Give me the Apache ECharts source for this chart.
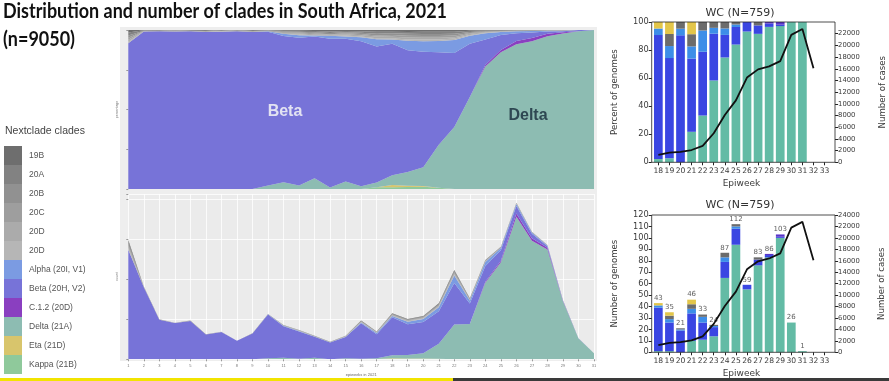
<!DOCTYPE html>
<html><head><meta charset="utf-8">
<script src="https://cdn.jsdelivr.net/npm/echarts@6/dist/echarts.min.js"></script>
<style>html,body{margin:0;padding:0;background:#fff}#c{width:889px;height:381px}</style>
</head><body><div id="c"></div>
<script>
// ---------- Left panel: South Africa, epiweeks 1..31 (counts per clade) ----------
const weeks = [1,2,3,4,5,6,7,8,9,10,11,12,13,14,15,16,17,18,19,20,21,22,23,24,25,26,27,28,29,30,31];
const c19B  = [12,1,0,0,0,0,0,0,0,0,1,1,1,1,1,2,2,3,3,3,4,6,2,2,2,1,1,0,0,0,0];
const c20A  = [14,1,1,0,1,1,0,0,1,1,1,1,1,1,1,2,2,3,3,4,5,7,3,3,2,2,1,1,0,0,0];
const c20B  = [10,1,0,1,0,0,1,0,0,0,1,1,1,1,1,2,2,3,3,3,4,6,2,2,1,1,1,0,1,0,0];
const c20C  = [10,0,1,0,1,0,0,1,0,1,1,1,1,0,1,2,1,3,3,3,4,6,2,2,1,1,1,1,0,0,0];
const c20Da = [9,1,0,1,0,1,0,0,1,0,1,1,1,1,1,2,2,3,3,3,4,5,3,2,2,2,1,1,1,0,0];
const c20Db = [7,0,0,0,0,0,1,0,0,0,0,1,0,0,1,1,1,2,2,3,3,5,2,2,1,1,0,0,0,0,0];
const cAlpha = [0,0,0,0,0,0,0,0,0,1,3,3,1,2,2,6,8,8,15,18,25,46,19,24,13,12,7,4,1,0,0];
const cBeta  = [682,449,247,226,239,154,170,115,160,273,197,170,131,103,132,220,149,237,192,196,203,259,127,99,66,48,28,10,2,1,0];
const cC12   = [0,0,0,0,0,0,0,0,0,0,0,0,0,0,0,0,0,0,0,0,0,0,0,6,10,20,16,11,3,0,0];
const cDelta = [0,0,0,0,0,0,0,0,0,6,9,4,10,1,7,4,5,18,22,32,94,217,220,477,604,888,739,684,362,130,37];
const cEta   = [0,0,0,0,0,0,0,0,0,0,0,0,0,0,0,0,0,4,2,1,0,0,0,0,0,0,0,0,0,0,0];
const cKappa = [0,0,0,0,0,0,0,0,0,0,0,0,0,0,0,0,2,3,3,4,3,0,0,0,0,0,0,0,0,0,0];
const legendNames = ['19B','20A','20B','20C','20D','20D ','Alpha (20I, V1)','Beta (20H, V2)','C.1.2 (20D)','Delta (21A)','Eta (21D)','Kappa (21B)'];

// ---------- Right panels: WC, epiweeks 18..33 ----------
const epiTicks = ['18','19','20','21','22','23','24','25','26','27','28','29','30','31','32','33'];
const rDelta = [1,1,0,10,11,14,65,94,55,76,83,100,26,1];
const rBeta  = [38,25,19,24,15,8,14,14,4,5,2,1,0,0];
const rAlpha = [2,3,1,4,5,1,4,2,0,0,0,0,0,0];
const rC12   = [0,0,0,0,0,0,0,0,0,0,1,2,0,0];
const rGrey  = [0,3,1,4,2,1,4,2,0,2,0,0,0,0];
const rEta   = [2,3,0,4,0,0,0,0,0,0,0,0,0,0];
const cases = [1260,1660,1770,2100,2800,4970,8100,10600,14500,15900,16400,17300,21800,22800,16100];

const TITLE1 = 'Distribution and number of clades in South Africa, 2021';
const TITLE2 = '(n=9050)';

// ---------- build ----------
const leftStack = [
  {name:'Kappa (21B)', d:cKappa, c:'#8fc99b'},
  {name:'Eta (21D)', d:cEta, c:'#d8c56c'},
  {name:'Delta (21A)', d:cDelta, c:'#8dbcb2'},
  {name:'C.1.2 (20D)', d:cC12, c:'#8a3fc0'},
  {name:'Beta (20H, V2)', d:cBeta, c:'#7773d8'},
  {name:'Alpha (20I, V1)', d:cAlpha, c:'#7b9be2'},
  {name:'20D ', d:c20Db, c:'#b6b6b6'},
  {name:'20D', d:c20Da, c:'#ababab'},
  {name:'20C', d:c20C, c:'#9e9e9e'},
  {name:'20B', d:c20B, c:'#919191'},
  {name:'20A', d:c20A, c:'#828282'},
  {name:'19B', d:c19B, c:'#6e6e6e'}
];
const totals = weeks.map((w, i) => leftStack.reduce((s, k) => s + k.d[i], 0));
const series = [];
leftStack.forEach(k => {
  series.push({name:k.name, type:'line', xAxisIndex:0, yAxisIndex:0, stack:'pct', symbol:'none', color:k.c,
    lineStyle:{width:0}, areaStyle:{color:k.c, opacity:1}, silent:true,
    data: k.d.map((v, i) => totals[i] ? v / totals[i] * 100 : 0)});
  series.push({name:k.name, type:'line', xAxisIndex:1, yAxisIndex:1, stack:'cnt', symbol:'none', color:k.c,
    lineStyle:{width:0}, areaStyle:{color:k.c, opacity:1}, silent:true,
    data: k.d.slice()});
});
const rStack = [
  {n:'r-delta', d:rDelta, c:'#63bba5'},
  {n:'r-beta', d:rBeta, c:'#3a46e2'},
  {n:'r-alpha', d:rAlpha, c:'#3d8ee8'},
  {n:'r-c12', d:rC12, c:'#5a35c8'},
  {n:'r-grey', d:rGrey, c:'#6c6c6c'},
  {n:'r-eta', d:rEta, c:'#e3c64a'}
];
const rTotals = rDelta.map((w, i) => rStack.reduce((s, k) => s + k.d[i], 0));
rStack.forEach(k => {
  series.push({name:k.n, type:'bar', xAxisIndex:2, yAxisIndex:2, stack:'rp', barWidth:8.7, color:k.c, silent:true,
    data: k.d.map((v, i) => rTotals[i] ? v / rTotals[i] * 100 : 0)});
  series.push({name:k.n, type:'bar', xAxisIndex:3, yAxisIndex:4, stack:'rc', barWidth:8.7, color:k.c, silent:true,
    data: k.d.slice()});
});
series.push({name:'r-tot', type:'scatter', xAxisIndex:3, yAxisIndex:4, symbolSize:1, silent:true,
  itemStyle:{color:'rgba(0,0,0,0)'},
  label:{show:true, position:'top', distance:1, fontSize:7, color:'#333', fontFamily:'DejaVu Sans', formatter: p => p.value},
  data: rTotals});
series.push({name:'cases1', type:'line', xAxisIndex:2, yAxisIndex:3, symbol:'none', color:'#111',
  lineStyle:{width:1.8, color:'#111'}, silent:true, data: cases});
series.push({name:'cases2', type:'line', xAxisIndex:3, yAxisIndex:5, symbol:'none', color:'#111',
  lineStyle:{width:1.8, color:'#111'}, silent:true, data: cases});

const RF = 'DejaVu Sans';
const rTxt = '#3a3a3a';
function rightX(grid, name){
  return {gridIndex:grid, type:'category', data:epiTicks, boundaryGap:true,
    axisLine:{show:false},
    axisTick:{show:true, inside:false, length:3, alignWithLabel:true, lineStyle:{color:'#222'}},
    axisLabel:{fontSize:7.6, color:rTxt, fontFamily:RF, margin:5, interval:0},
    splitLine:{show:false}, name:name, nameLocation:'middle', nameGap:17,
    nameTextStyle:{fontSize:9, color:rTxt, fontFamily:RF}};
}
function rightY(grid, pos, max, interval, name, gap, fs, hideMax, off){
  return {gridIndex:grid, type:'value', position:pos, offset:off, min:0, max:max, interval:interval,
    axisLine:{show:false},
    axisTick:{show:true, inside:false, length:3, lineStyle:{color:'#222'}},
    axisLabel:{fontSize:fs, color:rTxt, fontFamily:RF, margin:3, showMaxLabel: !hideMax, formatter: v => String(v)},
    splitLine:{show:false}, name:name, nameLocation:'middle', nameGap:gap,
    nameTextStyle:{fontSize:8.6, color:rTxt, fontFamily:RF}};
}

// title scaling
const ctx = document.createElement('canvas').getContext('2d');
ctx.font = 'bold 20px Lato';
const tW = ctx.measureText(TITLE1).width;
const sx = 444 / tW;

const chart = echarts.init(document.getElementById('c'), null, {renderer:'canvas'});
chart.setOption({
  animation:false,
  backgroundColor:'#ffffff',
  grid:[
    {left:128.3, top:30, width:465.7, height:159, show:true, backgroundColor:'#ebebeb', borderWidth:0},
    {left:128.3, top:194, width:465.7, height:165.3, show:true, backgroundColor:'#ebebeb', borderWidth:0},
    {left:652.8, top:22, width:177.3, height:140.3, show:false},
    {left:652.8, top:215, width:177.3, height:137.3, show:false}
  ],
  xAxis:[
    {gridIndex:0, type:'category', data:weeks, boundaryGap:false, axisLine:{show:false}, axisTick:{show:false}, axisLabel:{show:false}, splitLine:{show:false}},
    {gridIndex:1, type:'category', data:weeks, boundaryGap:false, axisLine:{show:false},
      axisTick:{show:true, length:2, lineStyle:{color:'#999'}},
      axisLabel:{fontSize:4, color:'#777', margin:5, interval:0},
      splitLine:{show:true, interval:0, lineStyle:{color:'#ffffff', width:0.8}},
      name:'epiweeks in 2021', nameLocation:'middle', nameGap:14, nameTextStyle:{fontSize:4, color:'#666'}},
    rightX(2, 'Epiweek'),
    rightX(3, 'Epiweek')
  ],
  yAxis:[
    {gridIndex:0, type:'value', min:0, max:100, interval:25, axisLine:{show:false},
      axisTick:{show:true, length:2, lineStyle:{color:'#999'}}, axisLabel:{show:false}, splitLine:{show:false},
      name:'percentage', nameLocation:'middle', nameGap:9, nameTextStyle:{fontSize:3.5, color:'#777'}},
    {gridIndex:1, type:'value', min:0, max:1030, interval:250, axisLine:{show:false},
      axisTick:{show:true, length:2, lineStyle:{color:'#999'}}, axisLabel:{show:false},
      splitLine:{show:true, lineStyle:{color:'#ffffff', width:0.8}},
      name:'count', nameLocation:'middle', nameGap:9, nameTextStyle:{fontSize:3.5, color:'#777'}},
    rightY(2, 'left', 100, 20, 'Percent of genomes', 32, 8.2, false, 1.1),
    rightY(2, 'right', 24000, 2000, 'Number of cases', 43, 6.8, true, 5),
    rightY(3, 'left', 120, 10, 'Number of genomes', 32, 8.2, false, 1.1),
    rightY(3, 'right', 24000, 2000, 'Number of cases', 42, 6.8, false, 5)
  ],
  legend:{
    data: legendNames, orient:'vertical', left:4, top:146, itemGap:0, itemWidth:18, itemHeight:19,
    icon:'rect', selectedMode:false, padding:0,
    textStyle:{fontSize:8.5, color:'#555', fontFamily:'Liberation Sans', padding:[0,0,0,2]}
  },
  graphic:[
    {type:'rect', z:-10, silent:true, shape:{x:120, y:27, width:477, height:334}, style:{fill:'#eeeeee'}},
    {type:'rect', z:50, silent:true, shape:{x:651.7, y:22, width:183.3, height:140.3}, style:{fill:'none', stroke:'#222', lineWidth:0.8}},
    {type:'rect', z:50, silent:true, shape:{x:651.7, y:215, width:183.3, height:137.3}, style:{fill:'none', stroke:'#222', lineWidth:0.8}},
    {type:'text', x:3, y:12, scaleX:sx, silent:true, style:{text:TITLE1, font:'bold 20px Lato', fill:'#111', verticalAlign:'middle'}},
    {type:'text', x:3, y:40, scaleX:sx, silent:true, style:{text:TITLE2, font:'bold 20px Lato', fill:'#111', verticalAlign:'middle'}},
    {type:'text', x:5, y:131, silent:true, style:{text:'Nextclade clades', font:'10.5px "Liberation Sans"', fill:'#444', verticalAlign:'middle'}},
    {type:'text', x:285, y:112, z:100, silent:true, style:{text:'Beta', font:'bold 16px "Liberation Sans"', fill:'#e2e2f2', align:'center', verticalAlign:'middle'}},
    {type:'text', x:528, y:116, z:100, silent:true, style:{text:'Delta', font:'bold 16px "Liberation Sans"', fill:'#2e4752', align:'center', verticalAlign:'middle'}},
    {type:'text', x:740, y:13, silent:true, style:{text:'WC (N=759)', font:'11px "DejaVu Sans"', fill:'#333', align:'center', verticalAlign:'middle'}},
    {type:'text', x:740, y:205, silent:true, style:{text:'WC (N=759)', font:'11px "DejaVu Sans"', fill:'#333', align:'center', verticalAlign:'middle'}},
    {type:'rect', z:100, silent:true, shape:{x:0, y:378, width:453, height:3}, style:{fill:'#f2e400'}},
    {type:'rect', z:100, silent:true, shape:{x:453, y:378, width:436, height:3}, style:{fill:'#3a3a3a'}}
  ],
  series: series
});
</script></body></html>
